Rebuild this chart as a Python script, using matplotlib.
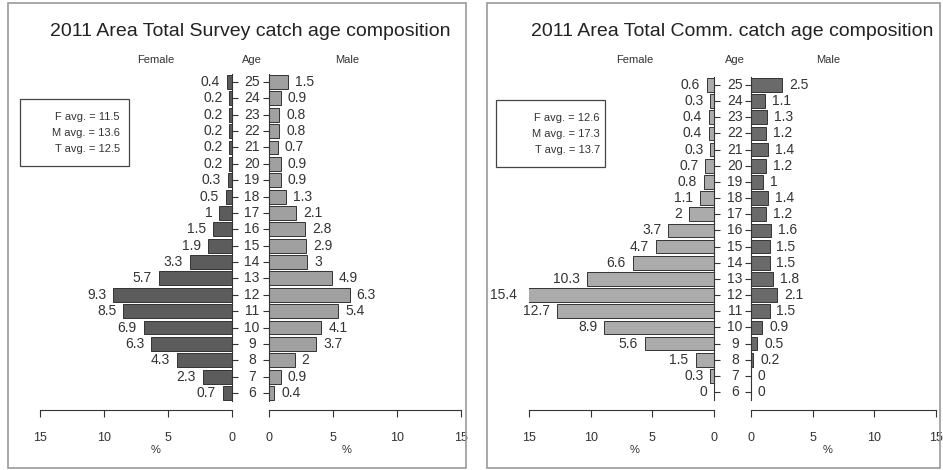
import numpy as np
import matplotlib.pyplot as plt
from matplotlib.patches import Rectangle
import matplotlib.transforms as mtransforms

plt.rcParams["font.family"] = ["Liberation Sans", "DejaVu Sans"]

W, H = 943, 470

ages = list(range(6, 26))

# Survey catch (left panel), percent by age 6..25
survey_female = [0.7, 2.3, 4.3, 6.3, 6.9, 8.5, 9.3, 5.7, 3.3, 1.9,
                 1.5, 1, 0.5, 0.3, 0.2, 0.2, 0.2, 0.2, 0.2, 0.4]
survey_male = [0.4, 0.9, 2, 3.7, 4.1, 5.4, 6.3, 4.9, 3, 2.9,
               2.8, 2.1, 1.3, 0.9, 0.9, 0.7, 0.8, 0.8, 0.9, 1.5]
survey_avgs = ["F avg. = 11.5", "M avg. = 13.6", "T avg. = 12.5"]

# Commercial catch (right panel)
comm_female = [0, 0.3, 1.5, 5.6, 8.9, 12.7, 15.4, 10.3, 6.6, 4.7,
               3.7, 2, 1.1, 0.8, 0.7, 0.3, 0.4, 0.4, 0.3, 0.6]
comm_male = [0, 0, 0.2, 0.5, 0.9, 1.5, 2.1, 1.8, 1.5, 1.5,
             1.6, 1.2, 1.4, 1, 1.2, 1.4, 1.2, 1.3, 1.1, 2.5]
comm_avgs = ["F avg. = 12.6", "M avg. = 17.3", "T avg. = 13.7"]

fig = plt.figure(figsize=(W / 100, H / 100), dpi=100)


def px_axes(x0, x1, y_top, y_bot):
    return fig.add_axes([x0 / W, 1 - y_bot / H, (x1 - x0) / W, (y_bot - y_top) / H])


def fig_text(x, y, s, **kw):
    fig.text(x / W, 1 - y / H, s, **kw)


def panel(title, female, male, avgs, fcol, mcol, geo):
    (fx0, fx1, mx0, mx1, y_top, y_bot, age25_y, age6_y,
     frame, box, box_tx, title_x, lab_x) = geo

    # panel frame
    fx, fy, fw, fh = frame
    fig.patches.append(Rectangle((fx / W, 1 - (fy + fh) / H), fw / W, fh / H,
                                 transform=fig.transFigure, fill=False,
                                 edgecolor="#9a9a9a", linewidth=1.2))

    step = (age6_y - age25_y) / 19
    ylo = 6 - (y_bot - age6_y) / step
    yhi = 25 + (age25_y - y_top) / step

    axf = px_axes(fx0, fx1, y_top, y_bot)
    axm = px_axes(mx0, mx1, y_top, y_bot)

    axf.barh(ages, female, height=0.85, color=fcol, edgecolor="#333333", linewidth=0.7)
    axm.barh(ages, male, height=0.85, color=mcol, edgecolor="#333333", linewidth=0.7)

    for ax in (axf, axm):
        ax.set_xlim(0, 15)
        ax.set_ylim(ylo, yhi)
        ax.set_facecolor("none")
        ax.spines["top"].set_visible(False)
        ax.set_xticks([0, 5, 10, 15])
        ax.tick_params(axis="x", direction="out", length=5, width=0.8,
                       labelsize=9, pad=11, colors="#333333")
        ax.spines["bottom"].set_color("#333333")
        ax.set_yticks(ages)
        ax.set_yticklabels([])
    axf.invert_xaxis()

    # value labels at the outer end of each bar
    for a, v in zip(ages, female):
        axf.annotate(f"{v:g}", xy=(v, a), xytext=(-5, 0), textcoords="offset points",
                     ha="right", va="center", fontsize=10, color="#333333",
                     annotation_clip=False)
    for a, v in zip(ages, male):
        axm.annotate(f"{v:g}", xy=(v, a), xytext=(5, 0), textcoords="offset points",
                     ha="left", va="center", fontsize=10, color="#333333",
                     annotation_clip=False)

    axf.spines["left"].set_visible(False)
    axf.spines["right"].set_bounds(5.5, 25.5)
    axf.spines["right"].set_color("#333333")
    axf.yaxis.tick_right()
    axf.tick_params(axis="y", direction="out", length=4, width=0.8, colors="#333333")

    axm.spines["right"].set_visible(False)
    axm.spines["left"].set_bounds(5.5, 25.5)
    axm.spines["left"].set_color("#333333")
    axm.tick_params(axis="y", direction="out", length=4, width=0.8, colors="#333333")

    # age labels between the two halves
    trans = mtransforms.blended_transform_factory(fig.transFigure, axf.transData)
    for a in ages:
        axf.text(lab_x[1] / W, a, str(a), transform=trans, ha="center", va="center",
                 fontsize=10, color="#333333", clip_on=False)

    # titles and headers
    fig_text(title_x, 31, title, ha="center", va="center", fontsize=14, color="#222222")
    fig_text(lab_x[0], 60, "Female", ha="center", va="center", fontsize=8, color="#333333")
    fig_text(lab_x[1], 60, "Age", ha="center", va="center", fontsize=8, color="#333333")
    fig_text(lab_x[2], 60, "Male", ha="center", va="center", fontsize=8, color="#333333")
    fig_text(lab_x[0], 450, "%", ha="center", va="center", fontsize=8, color="#333333")
    fig_text(lab_x[2], 450, "%", ha="center", va="center", fontsize=8, color="#333333")

    # averages box
    bx, by, bw, bh = box
    fig.patches.append(Rectangle((bx / W, 1 - (by + bh) / H), bw / W, bh / H,
                                 transform=fig.transFigure, fill=False,
                                 edgecolor="#444444", linewidth=0.9))
    for i, s in enumerate(avgs):
        fig_text(box_tx, by + 18 + i * 16, s, ha="right", va="center", fontsize=8, color="#333333")


panel("2011 Area Total Survey catch age composition", survey_female, survey_male,
      survey_avgs, "#5c5c5c", "#a0a0a0",
      (40, 232, 269, 461, 72, 410, 82, 393,
       (8, 3, 458, 465), (20, 99, 109, 67), 120, 250, (156, 252, 347)))

panel("2011 Area Total Comm. catch age composition", comm_female, comm_male,
      comm_avgs, "#ababab", "#6a6a6a",
      (529, 714, 751, 936, 74, 410, 85, 392,
       (487, 3, 453, 465), (496, 100, 109, 67), 600, 732, (635, 735, 828)))

fig.savefig("out.png", dpi=100, facecolor="white")
